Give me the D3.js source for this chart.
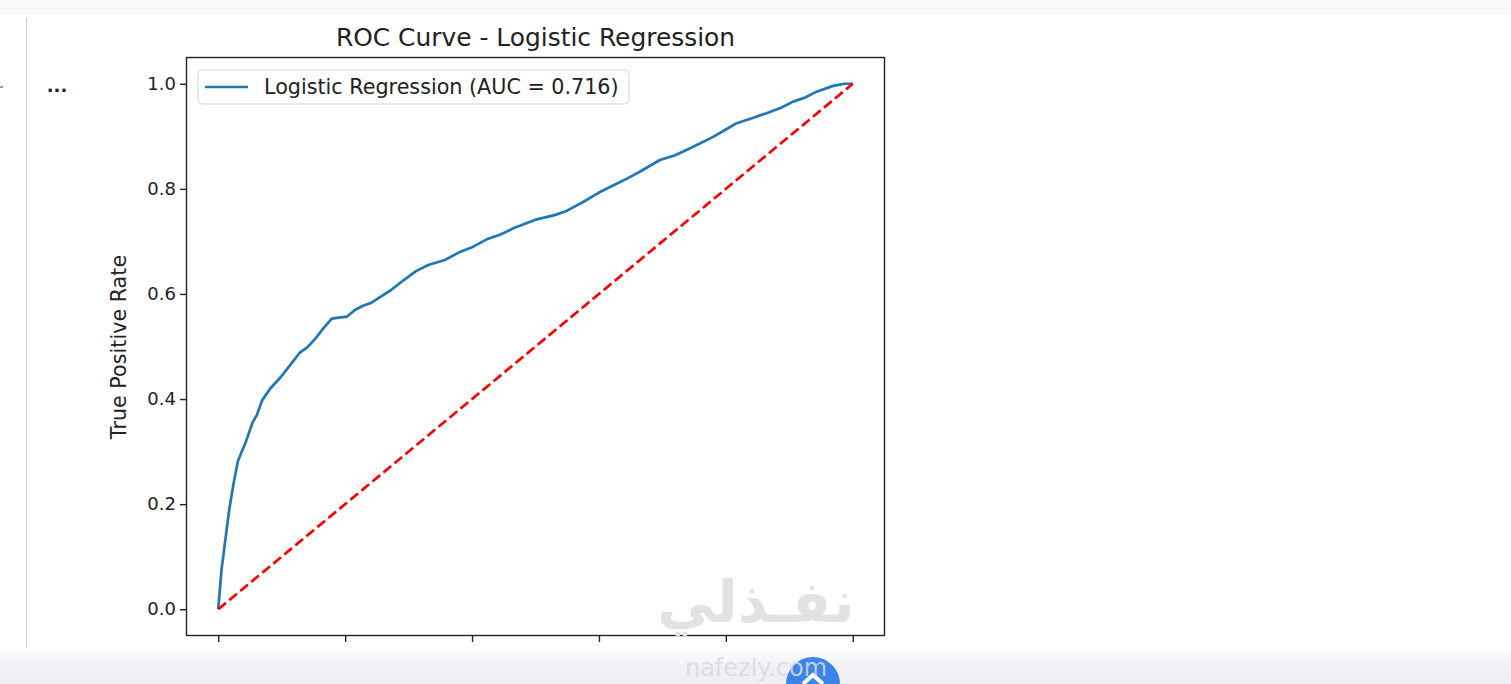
<!DOCTYPE html>
<html>
<head>
<meta charset="utf-8">
<script src="https://cdn.jsdelivr.net/npm/d3@7"></script>
<style>
  body { margin: 0; background: #fff; }
  svg { display: block; font-family: "DejaVu Sans", sans-serif; }
</style>
</head>
<body>
<div id="chart"></div>
<script>
// courbe ROC
const fpr = [0, 0.005, 0.011, 0.017, 0.024, 0.031, 0.043, 0.054, 0.061, 0.069, 0.082, 0.098, 0.113, 0.129, 0.140, 0.153,
  0.166, 0.179, 0.190, 0.203, 0.216, 0.229, 0.241, 0.255, 0.273, 0.292, 0.311, 0.331, 0.356, 0.381, 0.402, 0.423, 0.445, 0.465, 0.502, 0.530, 0.549, 0.575, 0.600, 0.623, 0.645, 0.665,
  0.696, 0.720, 0.743, 0.780, 0.800, 0.817, 0.840, 0.864, 0.886, 0.906, 0.925, 0.943, 0.969, 0.987, 1];
const tpr = [0, 0.073, 0.130, 0.187, 0.238, 0.282, 0.317, 0.355, 0.370, 0.397, 0.420, 0.441, 0.464, 0.489, 0.498, 0.515,
  0.535, 0.553, 0.555, 0.557, 0.570, 0.578, 0.583, 0.594, 0.608, 0.626, 0.643, 0.655, 0.664, 0.680, 0.690, 0.704, 0.713, 0.725, 0.742, 0.750, 0.758, 0.775, 0.793, 0.807, 0.820, 0.833,
  0.855, 0.864, 0.877, 0.899, 0.913, 0.925, 0.934, 0.944, 0.954, 0.966, 0.974, 0.985, 0.996, 1, 1];
const diagX = [0, 1];
const diagY = [0, 1];
const yTicks = [0, 0.2, 0.4, 0.6, 0.8, 1.0];
const xTicks = [0, 0.2, 0.4, 0.6, 0.8, 1.0];

const titre = "ROC Curve - Logistic Regression";
const labelY = "True Positive Rate";
const legende = "Logistic Regression (AUC = 0.716)";

const W = 1511, H = 684;
const box = { left: 186.5, right: 884.5, top: 57.5, bottom: 635.5 };

const svg = d3.select('#chart').append('svg')
  .attr('width', W)
  .attr('height', H);

// fond de la page
svg.append('rect').attr('x', 0).attr('y', 0).attr('width', W).attr('height', 15).attr('fill', '#f7f8fa');
svg.append('line').attr('x1', 26.5).attr('x2', 26.5).attr('y1', 18).attr('y2', 648)
  .attr('stroke', '#cfcfcf').attr('stroke-width', 1);
svg.append('text').attr('x', 57).attr('y', 92).attr('text-anchor', 'middle')
  .attr('font-size', 18).attr('font-weight', 'bold').attr('fill', '#222').text('...');
svg.append('line').attr('x1', 0).attr('x2', 3).attr('y1', 87).attr('y2', 87).attr('stroke', '#444');

const x = d3.scaleLinear().domain([-0.05, 1.05]).range([box.left, box.right]);
const y = d3.scaleLinear().domain([-0.05, 1.05]).range([box.bottom, box.top]);

// axes
const axeY = svg.append('g')
  .attr('transform', 'translate(' + box.left + ',0)')
  .call(d3.axisLeft(y).tickValues(yTicks).tickFormat(d3.format('.1f')).tickSize(6.5).tickPadding(4));
axeY.selectAll('text').attr('font-size', 18).attr('fill', '#222').attr('font-family', '"DejaVu Sans", sans-serif');

// les étiquettes de x sont cachées par le bandeau dans l'image -> ticks seuls
svg.append('g')
  .attr('transform', 'translate(0,' + box.bottom + ')')
  .call(d3.axisBottom(x).tickValues(xTicks).tickFormat('').tickSize(6.5));

svg.selectAll('.domain').remove();
svg.selectAll('.tick line').attr('stroke', '#222').attr('stroke-width', 1.4);

// cadre
svg.append('rect')
  .attr('x', box.left).attr('y', box.top)
  .attr('width', box.right - box.left).attr('height', box.bottom - box.top)
  .attr('fill', 'none').attr('stroke', '#222').attr('stroke-width', 1.4);

// courbes
const pts = fpr.map((d, i) => [d, tpr[i]]);
const line = d3.line().x(d => x(d[0])).y(d => y(d[1]));

svg.append('path')
  .datum(pts)
  .attr('d', line)
  .attr('fill', 'none')
  .attr('stroke', '#1f77b4')
  .attr('stroke-width', 2.7)
  .attr('stroke-linejoin', 'round');

svg.append('path')
  .datum(diagX.map((d, i) => [d, diagY[i]]))
  .attr('d', line)
  .attr('fill', 'none')
  .attr('stroke', '#ff0000')
  .attr('stroke-width', 2.7)
  .attr('stroke-dasharray', '10,4.3');

// titre et label
svg.append('text')
  .attr('x', (box.left + box.right) / 2).attr('y', 46)
  .attr('text-anchor', 'middle').attr('font-size', 24.9).attr('fill', '#222')
  .text(titre);

svg.append('text')
  .attr('transform', 'translate(126,347) rotate(-90)')
  .attr('text-anchor', 'middle').attr('font-size', 20.7).attr('fill', '#222')
  .text(labelY);

// légende
const leg = svg.append('g');
leg.append('rect')
  .attr('x', 198).attr('y', 70).attr('width', 431).attr('height', 34).attr('rx', 4)
  .attr('fill', '#fff').attr('fill-opacity', 0.8).attr('stroke', '#d5d5d5').attr('stroke-width', 1);
leg.append('line')
  .attr('x1', 205).attr('x2', 248).attr('y1', 87).attr('y2', 87)
  .attr('stroke', '#1f77b4').attr('stroke-width', 2.7);
leg.append('text')
  .attr('x', 264).attr('y', 94).attr('font-size', 20.7).attr('fill', '#222')
  .text(legende);

// filigrane
svg.append('text')
  .attr('x', 756).attr('y', 622).attr('text-anchor', 'middle')
  .attr('font-size', 58).attr('font-weight', 'bold').attr('fill', '#e2e2e2')
  .text('نفـذلي');

// bandeau du bas
const grad = svg.append('defs').append('linearGradient')
  .attr('id', 'bande').attr('x1', 0).attr('x2', 0).attr('y1', 0).attr('y2', 1);
grad.append('stop').attr('offset', '0%').attr('stop-color', '#ffffff');
grad.append('stop').attr('offset', '100%').attr('stop-color', '#eef0f4');
svg.append('rect').attr('x', 0).attr('y', 648).attr('width', W).attr('height', 20).attr('fill', 'url(#bande)');
svg.append('rect').attr('x', 0).attr('y', 668).attr('width', W).attr('height', 16).attr('fill', '#eef0f4');

svg.append('circle').attr('cx', 813).attr('cy', 684).attr('r', 27).attr('fill', '#3b84ec');
svg.append('path').attr('d', 'M803,684 L813,675 L823,684').attr('fill', 'none')
  .attr('stroke', '#fff').attr('stroke-width', 4);
svg.append('text')
  .attr('x', 756).attr('y', 676).attr('text-anchor', 'middle')
  .attr('font-size', 24).attr('fill', '#dadada').attr('fill-opacity', 0.85)
  .text('nafezly.com');
</script>
</body>
</html>
